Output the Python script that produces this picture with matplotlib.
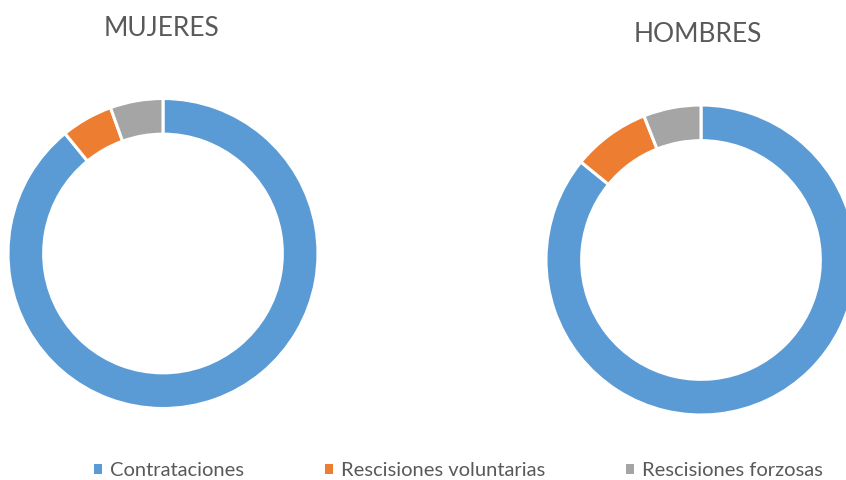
import matplotlib
matplotlib.use('Agg')
import matplotlib.pyplot as plt
from matplotlib.patches import Patch

plt.rcParams['font.family'] = ['Lato', 'DejaVu Sans']

# datos (porcentajes aproximados)
categorias = ['Contrataciones', 'Rescisiones voluntarias', 'Rescisiones forzosas']
mujeres = [89.1, 5.4, 5.5]
hombres = [85.9, 8.1, 6.0]
colores = ['#5B9BD5', '#ED7D31', '#A5A5A5']
texto = '#595959'

W, H = 846, 480
fig = plt.figure(figsize=(W / 100, H / 100), dpi=100)

# donas: centro y radio en pixeles
def dona(cx, cy, r, valores):
    ax = fig.add_axes([(cx - r) / W, (H - cy - r) / H, 2 * r / W, 2 * r / H])
    ax.pie(valores, colors=colores, startangle=90, counterclock=False, radius=1,
           wedgeprops=dict(width=0.23, edgecolor='white', linewidth=2.2))
    ax.set_xlim(-1, 1)
    ax.set_ylim(-1, 1)
    ax.set_aspect('equal')
    ax.axis('off')
    return ax

dona(163, 253.5, 155, mujeres)
dona(701, 260, 155, hombres)

fig.text(161.5 / W, 1 - 28 / H, 'MUJERES', ha='center', va='center', fontsize=19, color=texto)
fig.text(697.5 / W, 1 - 34 / H, 'HOMBRES', ha='center', va='center', fontsize=19, color=texto)

handles = [Patch(facecolor=c, edgecolor='none') for c in colores]
fig.legend(handles, categorias, loc='center', bbox_to_anchor=(458.5 / W, 1 - 471 / H), ncol=3,
           frameon=False, fontsize=14.5, labelcolor=texto, handlelength=0.4, handleheight=0.4,
           handletextpad=0.4, columnspacing=4.0, borderpad=0, borderaxespad=0)

fig.savefig('out.png', dpi=100, facecolor='white')
